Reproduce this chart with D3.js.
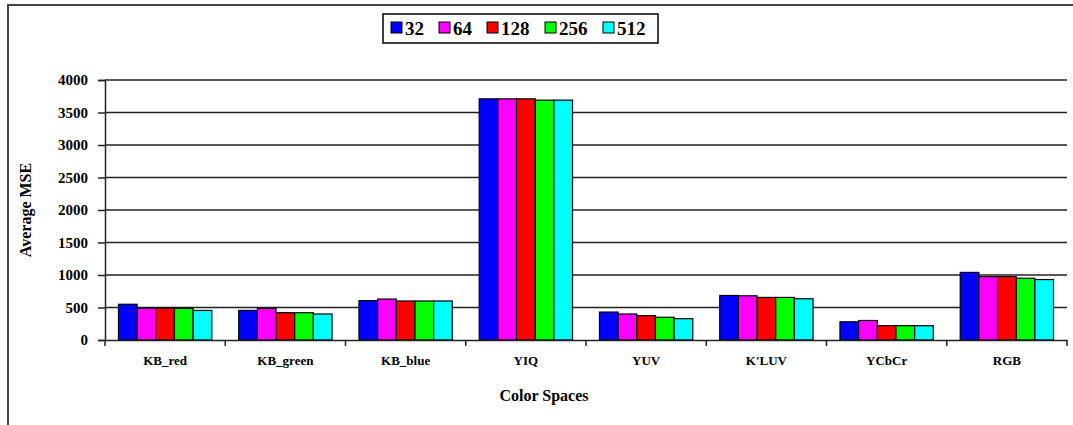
<!DOCTYPE html>
<html>
<head>
<meta charset="utf-8">
<script src="https://d3js.org/d3.v7.min.js"></script>
<style>
  body { margin: 0; background: #fff; }
  svg text { font-family: "Liberation Serif", "Times New Roman", serif; font-weight: bold; }
</style>
</head>
<body>
<svg width="1073" height="425"></svg>
<script>
// color spaces on the x axis
var categories = ["KB_red", "KB_green", "KB_blue", "YIQ", "YUV", "K'LUV", "YCbCr", "RGB"];
// legend series (codebook sizes)
var seriesNames = ["32", "64", "128", "256", "512"];
var seriesColors = ["#0000ff", "#ff00ff", "#ff0000", "#00ff00", "#00ffff"];

var s32  = [550, 455, 605, 3710, 430, 685, 280, 1040];
var s64  = [490, 485, 630, 3710, 400, 680, 300, 975];
var s128 = [490, 420, 600, 3710, 375, 655, 220, 975];
var s256 = [487, 420, 600, 3690, 350, 655, 220, 950];
var s512 = [455, 400, 600, 3690, 328, 635, 220, 930];
var series = [s32, s64, s128, s256, s512];

var yTicks = [0, 500, 1000, 1500, 2000, 2500, 3000, 3500, 4000];

var svg = d3.select("svg");

// outer frame
svg.append("path")
  .attr("d", "M8,425 L8,5 L1073,5")
  .attr("fill", "none")
  .attr("stroke", "#444")
  .attr("stroke-width", 2);

var left_margin = 105, right_edge = 1067, top_margin = 80, base_y = 340;

var x0 = d3.scaleBand().domain(categories).range([left_margin, right_edge]);
var inner = x0.bandwidth() * 0.112;
var x1 = d3.scaleBand().domain(d3.range(seriesNames.length))
  .range([inner, x0.bandwidth() - inner]);
var y = d3.scaleLinear().domain([0, 4000]).range([base_y, top_margin]);

// gridlines
svg.append("g").selectAll("line")
  .data(yTicks.slice(1))
  .enter().append("line")
    .attr("x1", left_margin).attr("x2", right_edge)
    .attr("y1", function(d) { return y(d); })
    .attr("y2", function(d) { return y(d); })
    .attr("stroke", "#222")
    .attr("stroke-width", 1.5);

// bars
var g = svg.append("g");
categories.forEach(function(cat, i) {
  series.forEach(function(vals, j) {
    g.append("rect")
      .attr("x", x0(cat) + x1(j))
      .attr("y", y(vals[i]))
      .attr("width", x1.bandwidth())
      .attr("height", y(0) - y(vals[i]))
      .attr("fill", seriesColors[j])
      .attr("stroke", "#000")
      .attr("stroke-width", 1.2);
  });
});

// y axis
var yAxis = svg.append("g")
  .attr("transform", "translate(" + left_margin + ",0)")
  .call(d3.axisLeft(y).tickValues(yTicks).tickSize(7).tickPadding(10).tickFormat(d3.format("d")));
yAxis.selectAll("text").attr("font-size", 15).attr("fill", "#000")
  .style("font-family", "Liberation Serif").style("font-weight", "bold");
yAxis.selectAll("line, path").attr("stroke", "#222").attr("stroke-width", 1.5);

// x axis
var xAxis = svg.append("g")
  .attr("transform", "translate(0," + base_y + ")")
  .call(d3.axisBottom(x0).tickSize(0).tickPadding(16));
xAxis.selectAll("text").attr("font-size", 13).attr("fill", "#000")
  .style("font-family", "Liberation Serif").style("font-weight", "bold");
xAxis.select(".domain").attr("stroke", "#222").attr("stroke-width", 1.5);
// category separator ticks
xAxis.selectAll(".sep")
  .data(d3.range(categories.length + 1))
  .enter().append("line")
    .attr("x1", function(d) { return left_margin + d * x0.bandwidth(); })
    .attr("x2", function(d) { return left_margin + d * x0.bandwidth(); })
    .attr("y1", 0).attr("y2", 6)
    .attr("stroke", "#222").attr("stroke-width", 1.5);

// axis titles
svg.append("text")
  .attr("x", 544).attr("y", 401)
  .attr("text-anchor", "middle")
  .attr("font-size", 16)
  .text("Color Spaces");

svg.append("text")
  .attr("transform", "translate(31,210) rotate(-90)")
  .attr("text-anchor", "middle")
  .attr("font-size", 16)
  .text("Average MSE");

// legend
var legend = svg.append("g");
legend.append("rect")
  .attr("x", 383).attr("y", 14).attr("width", 275).attr("height", 29)
  .attr("fill", "#fff").attr("stroke", "#000").attr("stroke-width", 1.5);
var legX = [391, 439, 487, 545, 603];
seriesNames.forEach(function(name, j) {
  legend.append("rect")
    .attr("x", legX[j]).attr("y", 22).attr("width", 11).attr("height", 11)
    .attr("fill", seriesColors[j]).attr("stroke", "#000").attr("stroke-width", 1);
  legend.append("text")
    .attr("x", legX[j] + 14).attr("y", 35)
    .attr("font-size", 19)
    .text(name);
});
</script>
</body>
</html>
